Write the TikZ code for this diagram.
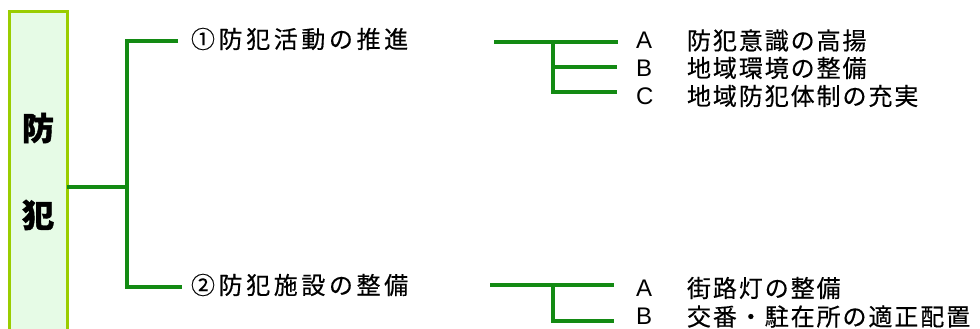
\documentclass[tikz,border=0pt]{standalone}
\usepackage{fontspec}
\newfontfamily\jpheavy[BoldFeatures={FakeBold=1.2}]{Noto Sans CJK JP}
\newfontfamily\jpmain[LetterSpace=15,FakeBold=0.4]{Noto Sans CJK JP}
\newfontfamily\jpsp[LetterSpace=8,FakeBold=0.4]{Noto Sans CJK JP}
\newfontfamily\lat{Liberation Sans}
\definecolor{branch}{HTML}{138A13}
\definecolor{boxedge}{HTML}{9ACD00}
\definecolor{boxfill}{HTML}{E6FBE6}
\begin{document}
\begin{tikzpicture}[x=1pt,y=-1pt,
  conn/.style={draw=branch, line width=3.2pt},
  main/.style={anchor=west, inner xsep=13pt, inner ysep=0pt, outer sep=0pt,
    font=\jpmain\fontsize{24}{28}\selectfont},
  letter/.style={anchor=west, inner sep=0pt, outer sep=0pt,
    font=\lat\fontsize{24}{28}\selectfont},
  leaf/.style={anchor=west, inner sep=0pt, outer sep=0pt,
    font=\jpsp\fontsize{24}{28}\selectfont},
  big/.style={font=\jpheavy\bfseries\fontsize{32}{36}\selectfont, inner sep=0pt}]
\useasboundingbox (0,0) rectangle (980,329);
\clip (0,0) rectangle (980,329);

% theme box on the left
\node[draw=boxedge, fill=boxfill, line width=3pt, minimum width=58pt,
      minimum height=330pt, anchor=north west, inner sep=0pt, outer sep=0pt]
      (root) at (9,12) {};
\node[big] (ch1) at (38,128) {防};
\node[big] (ch2) at (38,215) {犯};

% first level
\coordinate (j0) at (127,187);
\coordinate (e1) at (178,41);
\coordinate (e2) at (182,287);
\node[main] (t1) at (178,39) {①防犯活動の推進};
\node[main] (t2) at (178,285) {②防犯施設の整備};
\draw[conn] (root.east |- j0) -- (j0);
\draw[conn] (e1) -| (j0) |- (e2);

% measures under item 1
\coordinate (s1) at (494,42);
\coordinate (k1) at (553,42);
\coordinate (ea1) at (618,42);
\coordinate (eb1) at (617,67);
\coordinate (ec1) at (617,92);
\node[letter] (a1) at (636,40.5) {A};
\node[letter] (b1) at (636,68) {B};
\node[letter] (c1) at (636,96) {C};
\node[leaf] (a1t) at (687,40.5) {防犯意識の高揚};
\node[leaf] (b1t) at (687,68) {地域環境の整備};
\node[leaf] (c1t) at (687,96) {地域防犯体制の充実};
\draw[conn] (s1) -- (ea1);
\draw[conn] (k1) |- (eb1);
\draw[conn] (k1) |- (ec1);

% measures under item 2
\coordinate (s2) at (490,285);
\coordinate (k2) at (553,285);
\coordinate (ea2) at (614,285);
\coordinate (eb2) at (614,321);
\node[letter] (a2) at (636,288) {A};
\node[letter] (b2) at (636,316.5) {B};
\node[leaf] (a2t) at (687,288) {街路灯の整備};
\node[leaf] (b2t) at (687,316.5) {交番・駐在所の適正配置};
\draw[conn] (s2) -- (ea2);
\draw[conn] (k2) |- (eb2);
\end{tikzpicture}
\end{document}
